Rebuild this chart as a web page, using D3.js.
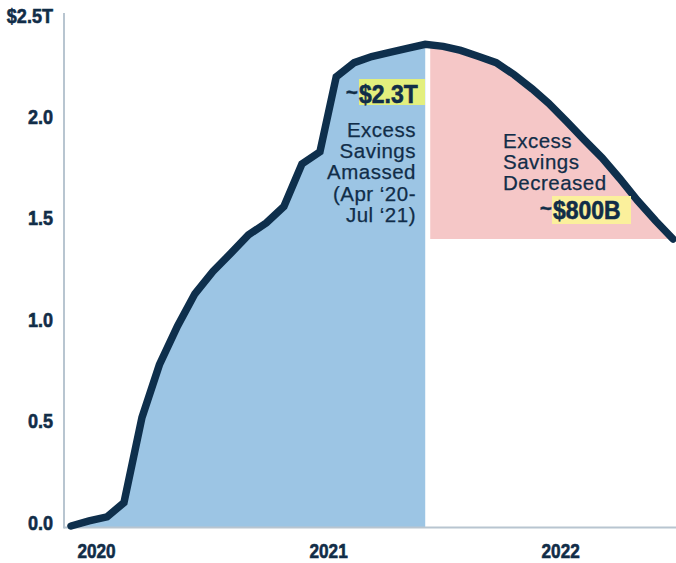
<!DOCTYPE html>
<html>
<head>
<meta charset="utf-8">
<script src="https://cdn.jsdelivr.net/npm/d3@7"></script>
<style>
  html, body { margin: 0; padding: 0; background: #ffffff; }
  svg { display: block; }
</style>
</head>
<body>
<svg id="chart" width="676" height="563"></svg>
<script>
// Cumulative excess household savings, trillions of dollars, monthly
const months = [
  "2019-12",
  "2020-01", "2020-02", "2020-03", "2020-04", "2020-05", "2020-06",
  "2020-07", "2020-08", "2020-09", "2020-10", "2020-11", "2020-12",
  "2021-01", "2021-02", "2021-03", "2021-04", "2021-05", "2021-06",
  "2021-07", "2021-08", "2021-09", "2021-10", "2021-11", "2021-12",
  "2022-01", "2022-02", "2022-03", "2022-04", "2022-05", "2022-06",
  "2022-07", "2022-08", "2022-09", "2022-10"
];
const savings = [
  0.005,
  0.03, 0.05, 0.12, 0.54, 0.80, 0.99,
  1.15, 1.26, 1.35, 1.44, 1.50, 1.58,
  1.79, 1.85, 2.22, 2.29, 2.32, 2.34,
  2.36, 2.38, 2.37, 2.35, 2.32, 2.29,
  2.23, 2.16, 2.09, 2.00, 1.91, 1.82,
  1.72, 1.61, 1.51, 1.42
];
const peakMonth = "2021-08";

const yTicks = [0, 0.5, 1.0, 1.5, 2.0, 2.5];
const yearTicks = ["2020-01-13", "2021-02-15", "2022-03-21"];

const amassedLines = ["Excess", "Savings", "Amassed", "(Apr \u201820-", "Jul \u201821)"];
const decreasedLines = ["Excess", "Savings", "Decreased"];
const peakLabel = "$2.3T";
const dropLabel = "$800B";

const NAVY = "#0e2f4c";
const TEXT = "#112d48";
const BLUE = "#9cc5e4";
const PINK = "#f5c7c7";
const AXIS = "#b8c5d0";
const SANS = "'Liberation Sans', Arial, Helvetica, sans-serif";
const SQUEEZE = 0.86;

const parseMonth = d3.timeParse("%Y-%m");
const parseDay = d3.timeParse("%Y-%m-%d");
const data = months.map((m, i) => ({ date: parseMonth(m), value: savings[i] }));
const peakDate = parseMonth(peakMonth);
const last = data[data.length - 1];

const svg = d3.select("#chart");

const x = d3.scaleTime()
  .domain([data[0].date, last.date])
  .range([71, 673]);
const y = d3.scaleLinear()
  .domain([0, 2.5])
  .range([527, 20]);

// Build-up phase: filled down to zero
const rising = data.filter(d => d.date <= peakDate);
svg.append("path")
  .datum(rising)
  .attr("fill", BLUE)
  .attr("d", d3.area().x(d => x(d.date)).y0(y(0)).y1(d => y(d.value)));

// Draw-down phase: filled between the curve and its latest level
svg.append("clipPath").attr("id", "after-peak")
  .append("rect")
  .attr("x", x(peakDate) + 5).attr("y", 0)
  .attr("width", 676).attr("height", 563);

const falling = data.filter(d => d.date >= peakDate);
svg.append("path")
  .datum(falling)
  .attr("clip-path", "url(#after-peak)")
  .attr("fill", PINK)
  .attr("d", d3.area().x(d => x(d.date)).y0(y(last.value)).y1(d => y(d.value)));

// Axis rules
svg.append("line")
  .attr("x1", 64).attr("x2", 64)
  .attr("y1", y(2.5) - 7).attr("y2", y(0) + 1.5)
  .attr("stroke", AXIS).attr("stroke-width", 2);
svg.append("line")
  .attr("x1", 64).attr("x2", 676)
  .attr("y1", y(0) + 0.5).attr("y2", y(0) + 0.5)
  .attr("stroke", AXIS).attr("stroke-width", 2);

// Heavy condensed style shared by axis and value labels
function heavy(sel, size) {
  sel.attr("fill", TEXT)
    .attr("stroke", TEXT)
    .attr("stroke-width", 0.6)
    .style("font-family", SANS)
    .style("font-weight", 700)
    .style("font-size", size + "px");
}

// Y axis labels
const yAxis = svg.append("g")
  .attr("transform", "translate(64,0)")
  .call(d3.axisLeft(y)
    .tickValues(yTicks)
    .tickSize(0)
    .tickFormat(d => d === 2.5 ? "$2.5T" : d3.format(".1f")(d)));
yAxis.select(".domain").remove();
yAxis.selectAll("text")
  .attr("x", -11 / SQUEEZE)
  .attr("dy", "0.1em")
  .attr("transform", `scale(${SQUEEZE},1)`)
  .call(heavy, 21);

// X axis labels
const xAxis = svg.append("g")
  .attr("transform", `translate(0,${y(0)})`)
  .call(d3.axisBottom(x)
    .tickValues(yearTicks.map(parseDay))
    .tickSize(0)
    .tickFormat(d3.timeFormat("%Y")));
xAxis.select(".domain").remove();
xAxis.selectAll("text")
  .attr("y", 31.5)
  .attr("dy", 0)
  .attr("transform", `scale(${SQUEEZE},1)`)
  .call(heavy, 20);

// Savings curve
svg.append("path")
  .datum(data)
  .attr("fill", "none")
  .attr("stroke", NAVY)
  .attr("stroke-width", 7.5)
  .attr("stroke-linecap", "round")
  .attr("stroke-linejoin", "miter")
  .attr("d", d3.line().x(d => x(d.date)).y(d => y(d.value)));

// Annotations
const notes = svg.append("g")
  .attr("fill", TEXT)
  .style("font-family", SANS);

function highlightValue(label, rect, tx, baseline) {
  notes.append("rect")
    .attr("x", rect.x).attr("y", rect.y)
    .attr("width", rect.w).attr("height", rect.h)
    .attr("fill", rect.fill);
  notes.append("text")
    .attr("transform", `translate(${tx - 1},${baseline - 3}) scale(0.95,1)`)
    .attr("text-anchor", "end")
    .call(heavy, 22)
    .attr("stroke-width", 0.3)
    .text("~");
  notes.append("text")
    .attr("transform", `translate(${tx},${baseline}) scale(0.9,1)`)
    .call(heavy, 25.5)
    .text(label);
}

highlightValue(peakLabel, { x: 359, y: 79, w: 66, h: 26, fill: "#e3ef7d" }, 359, 103);
highlightValue(dropLabel, { x: 552, y: 196, w: 79, h: 28, fill: "#fbf09c" }, 553, 219);

notes.append("text")
  .attr("text-anchor", "end")
  .attr("stroke", TEXT)
  .attr("stroke-width", 0.25)
  .style("font-size", "20.5px")
  .style("letter-spacing", "0.5px")
  .selectAll("tspan")
  .data(amassedLines)
  .join("tspan")
  .attr("x", 416)
  .attr("y", (d, i) => 137 + i * 21.2)
  .text(d => d);

notes.append("text")
  .attr("text-anchor", "start")
  .attr("stroke", TEXT)
  .attr("stroke-width", 0.25)
  .style("font-size", "20.5px")
  .style("letter-spacing", "0.5px")
  .selectAll("tspan")
  .data(decreasedLines)
  .join("tspan")
  .attr("x", 503)
  .attr("y", (d, i) => 148 + i * 21.2)
  .text(d => d);
</script>
</body>
</html>
